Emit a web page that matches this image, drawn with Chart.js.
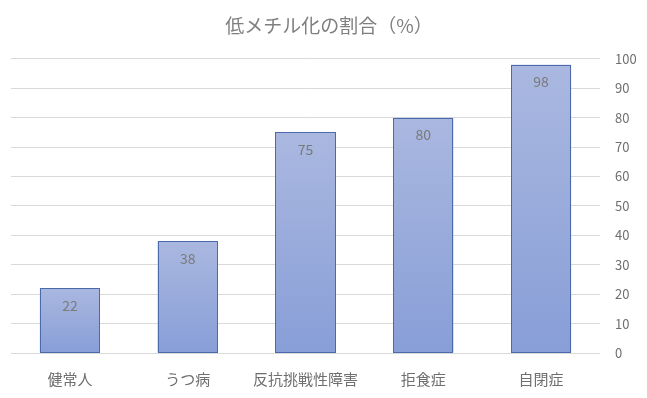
<!DOCTYPE html>
<html>
<head>
<meta charset="utf-8">
<script src="https://cdn.jsdelivr.net/npm/chart.js@4/dist/chart.umd.min.js"></script>
<style>
  html, body { margin: 0; padding: 0; background: #fff; }
  #wrap { width: 647px; height: 398px; }
</style>
</head>
<body>
<div id="wrap"><canvas id="myChart" width="647" height="398"></canvas></div>
<script>
const labels = ['健常人', 'うつ病', '反抗挑戦性障害', '拒食症', '自閉症'];
const values = [22, 38, 75, 80, 98];
const yTicks = [0, 10, 20, 30, 40, 50, 60, 70, 80, 90, 100];
const titleText = '低メチル化の割合（%）';

const FONT = "'Noto Sans CJK JP', 'Noto Sans', sans-serif";

// gradient per bar, light at top, a bit darker at the bottom
function barFill(ctx) {
    const chart = ctx.chart;
    const y = chart.scales.y;
    if (!chart.chartArea || !y || ctx.parsed == null) return '#98aadb';
    const top = y.getPixelForValue(ctx.parsed.y);
    const bottom = y.getPixelForValue(0);
    const g = chart.ctx.createLinearGradient(0, top, 0, bottom);
    g.addColorStop(0, '#aab8e0');
    g.addColorStop(1, '#889ed7');
    return g;
}

// crisp outline + values written inside the top of each bar
const valueLabels = {
    id: 'valueLabels',
    afterDatasetsDraw(chart) {
        const c = chart.ctx;
        const meta = chart.getDatasetMeta(0);
        c.save();
        c.strokeStyle = '#4a6aab';
        c.lineWidth = 1;
        meta.data.forEach((bar) => {
            const l = Math.round(bar.x - bar.width / 2) + 0.5;
            const r = Math.round(bar.x + bar.width / 2) - 0.5;
            const t = Math.round(bar.y) + 0.5;
            const b = Math.round(bar.base) - 0.5;
            c.strokeRect(l, t, r - l, b - t);
        });
        c.font = '14px ' + FONT;
        c.fillStyle = '#7a7a7a';
        c.textAlign = 'center';
        c.textBaseline = 'middle';
        meta.data.forEach((bar, i) => {
            c.fillText(String(values[i]), bar.x, bar.y + 17);
        });
        c.restore();
    }
};

const data = {
    labels: labels,
    datasets: [{
        data: values,
        backgroundColor: barFill,
        borderWidth: 0,
        barPercentage: 0.51,
        categoryPercentage: 1
    }]
};

const config = {
    type: 'bar',
    data: data,
    options: {
        responsive: false,
        animation: false,
        layout: { padding: { left: 11, right: 0, top: 0, bottom: 0 } },
        plugins: {
            legend: { display: false },
            tooltip: { enabled: false },
            title: {
                display: true,
                text: titleText,
                color: '#7f7f7f',
                font: { family: FONT, size: 19, weight: 'normal' },
                padding: { top: 14, bottom: 22 }
            }
        },
        scales: {
            x: {
                grid: { display: false },
                border: { display: false },
                ticks: {
                    color: '#6f6f6f',
                    font: { family: FONT, size: 15 },
                    padding: 9,
                    maxRotation: 0,
                    autoSkip: false
                },
                afterFit(scale) { scale.height = 45; }
            },
            y: {
                position: 'right',
                min: 0,
                max: 100,
                afterBuildTicks(scale) { scale.ticks = yTicks.map(v => ({ value: v })); },
                grid: { color: '#d9d9d9', drawTicks: false },
                border: { display: false },
                ticks: {
                    color: '#6f6f6f',
                    font: { family: FONT, size: 13 },
                    padding: 15
                },
                afterFit(scale) { scale.width = 47; }
            }
        }
    },
    plugins: [valueLabels]
};

const myChart = new Chart(document.getElementById('myChart'), config);
</script>
</body>
</html>
